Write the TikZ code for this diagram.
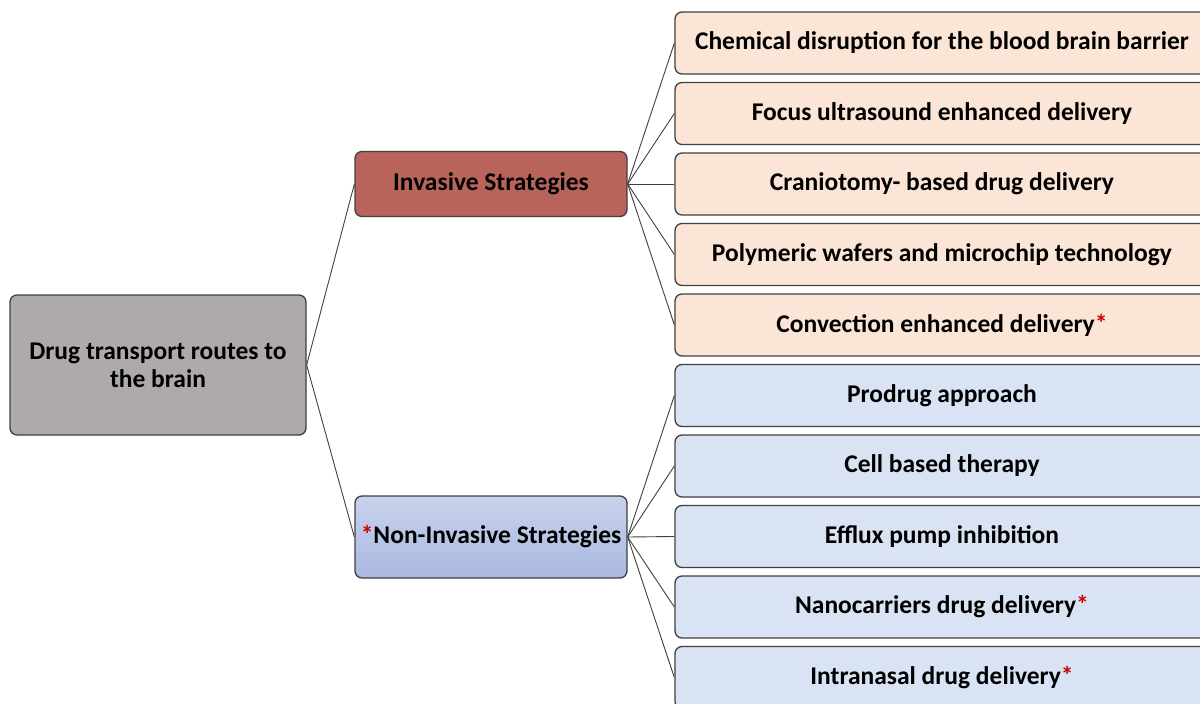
\documentclass[tikz,border=0pt]{standalone}
\usepackage{fontspec}
\setmainfont{Carlito}
\usetikzlibrary{positioning}

\definecolor{rootgray}{HTML}{AEAAAA}
\definecolor{invred}{HTML}{B9645B}
\definecolor{peach}{HTML}{FBE5D6}
\definecolor{paleblue}{HTML}{DAE3F3}
\definecolor{blueTop}{HTML}{C8D2EC}
\definecolor{blueBot}{HTML}{AAB9E1}
\definecolor{edgegray}{HTML}{404040}
\definecolor{starred}{HTML}{D00000}

\tikzset{
  box/.style={draw=edgegray, line width=1.3pt, rounded corners=7pt, align=center,
    font=\fontsize{25.5}{28}\selectfont\bfseries, inner sep=1pt},
  leaf/.style={box, minimum width=534pt, minimum height=62pt},
  link/.style={draw=edgegray, line width=0.9pt}
}
\newcommand{\redstar}{\textcolor{starred}{*}}

\begin{document}
\begin{tikzpicture}[x=1pt,y=-1pt]
\useasboundingbox (0,0) rectangle (1200,704);
\clip (0,0) rectangle (1200,704);
\node[box, fill=rootgray, minimum width=296pt, minimum height=140pt] (root) at (158,365)
  {Drug transport routes to\\the brain};
\node[box, fill=invred, minimum width=272pt, minimum height=65pt] (inv) at (491,184)
  {Invasive Strategies};
\node[box, top color=blueTop, bottom color=blueBot, minimum width=272pt, minimum height=82pt] (noninv) at (491,537)
  {\redstar Non-Invasive Strategies};
\draw[link] (root.east) -- (inv.west);
\draw[link] (root.east) -- (noninv.west);
\foreach \t [count=\i] in {Chemical disruption for the blood brain barrier,
    Focus ultrasound enhanced delivery, Craniotomy- based drug delivery,
    Polymeric wafers and microchip technology, Convection enhanced delivery\redstar}
  {
  \node[leaf, fill=peach] (i\i) at (942,{43+70.5*(\i-1)}) {\t};
  \draw[link] (inv.east) -- (i\i.west);
  }
\foreach \t [count=\i] in {Prodrug approach, Cell based therapy,
    Efflux pump inhibition, Nanocarriers drug delivery\redstar,
    Intranasal drug delivery\redstar}
  {
  \node[leaf, fill=paleblue] (n\i) at (942,{395.5+70.5*(\i-1)}) {\t};
  \draw[link] (noninv.east) -- (n\i.west);
  }
\end{tikzpicture}
\end{document}
